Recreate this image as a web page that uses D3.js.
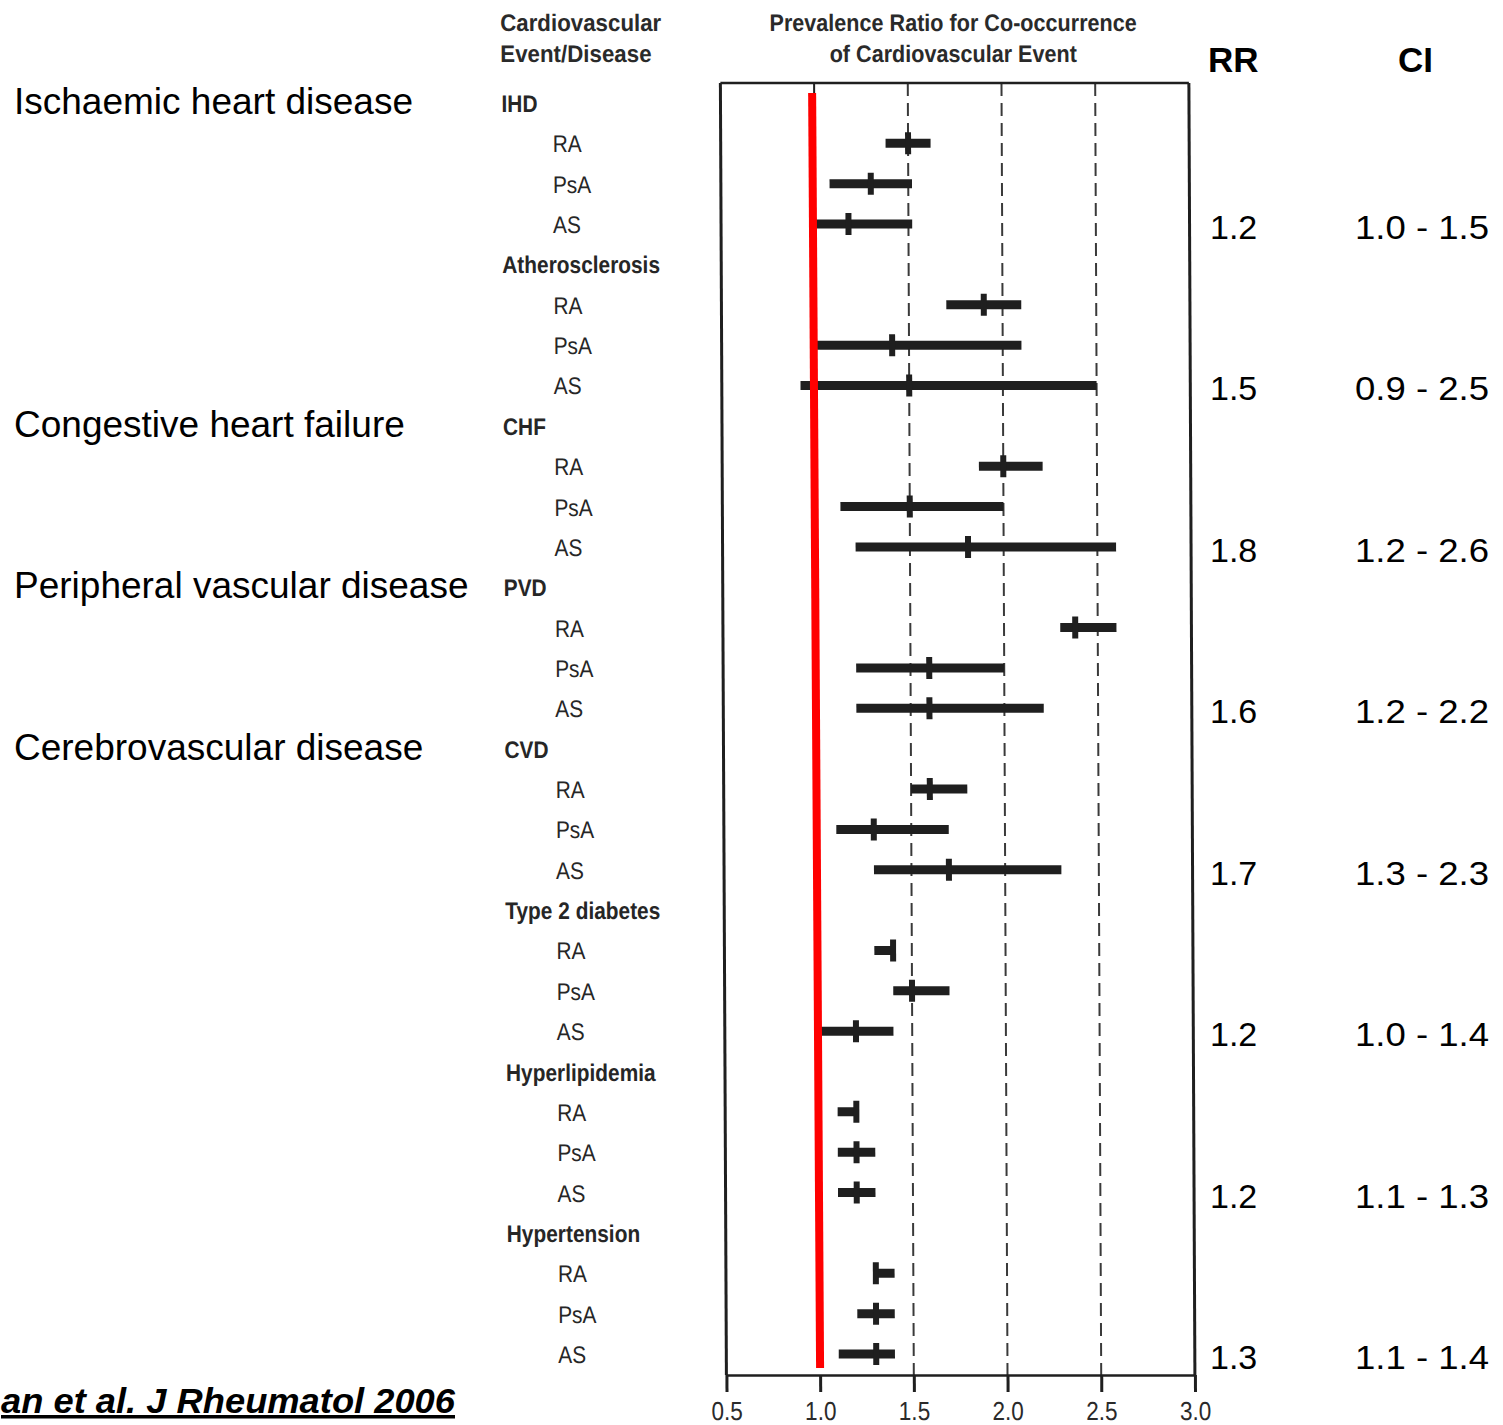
<!DOCTYPE html>
<html>
<head>
<meta charset="utf-8">
<script src="https://cdn.jsdelivr.net/npm/d3@7"></script>
<style>
  html, body { margin: 0; padding: 0; background: #ffffff; }
  svg { display: block; }
  text { font-family: "Liberation Sans", Arial, Helvetica, sans-serif; }
</style>
</head>
<body>
<script>
// ---------------- DATA ----------------
const groups = ["IHD", "Atherosclerosis", "CHF", "PVD", "CVD", "Type 2 diabetes", "Hyperlipidemia", "Hypertension"];
const subgroups = ["RA", "PsA", "AS"];
// prevalence ratio point estimates [RA, PsA, AS] per group
const pointEst = [
  [1.50, 1.30, 1.18],
  [1.90, 1.41, 1.50],
  [2.00, 1.50, 1.81],
  [2.38, 1.60, 1.60],
  [1.60, 1.30, 1.70],
  [1.40, 1.50, 1.20],
  [1.20, 1.20, 1.20],
  [1.30, 1.30, 1.30]
];
const lowerCI = [
  [1.38, 1.08, 1.00],
  [1.70, 1.00, 0.92],
  [1.87, 1.13, 1.21],
  [2.30, 1.21, 1.21],
  [1.50, 1.10, 1.30],
  [1.30, 1.40, 1.01],
  [1.10, 1.10, 1.10],
  [1.30, 1.20, 1.10]
];
const upperCI = [
  [1.62, 1.52, 1.52],
  [2.10, 2.10, 2.50],
  [2.21, 2.00, 2.60],
  [2.60, 2.00, 2.21],
  [1.80, 1.70, 2.30],
  [1.40, 1.70, 1.40],
  [1.20, 1.30, 1.30],
  [1.40, 1.40, 1.40]
];
const pooledRR = ["1.2", "1.5", "1.8", "1.6", "1.7", "1.2", "1.2", "1.3"];
const pooledCI = ["1.0 - 1.5", "0.9 - 2.5", "1.2 - 2.6", "1.2 - 2.2", "1.3 - 2.3", "1.0 - 1.4", "1.1 - 1.3", "1.1 - 1.4"];
const longNames = ["Ischaemic heart disease", "Congestive heart failure", "Peripheral vascular disease", "Cerebrovascular disease"];
const longNameGroup = [0, 2, 3, 4];
const xTicks = [0.5, 1.0, 1.5, 2.0, 2.5, 3.0];
const dashedRefs = [1.5, 2.0, 2.5];
const nullValue = 1.0;
const headerLeft = ["Cardiovascular", "Event/Disease"];
const headerMid = ["Prevalence Ratio for Co-occurrence", "of Cardiovascular Event"];
const colHeaders = ["RR", "CI"];
const sourceText = "an et al. J Rheumatol 2006";

// ---------------- LAYOUT ----------------
const W = 1503, H = 1425;
const frameTop = 83, frameBottom = 1375;
const nRows = groups.length * 4;

const x = d3.scaleLinear().domain([0.5, 3.0]).range([720, 1188.5]);
const y = d3.scaleLinear().domain([0, nRows - 1]).range([103, 1354]);

const ink = "#1f1f1f";
const narrow = 0.87;
const narrowHead = 0.93;

const svg = d3.select("body").append("svg").attr("width", W).attr("height", H);
svg.append("rect").attr("width", W).attr("height", H).attr("fill", "#fff");

// scanned figure is slightly skewed
const scan = svg.append("g").attr("transform", "skewX(0.267)");

// header texts
headerLeft.forEach((t, i) => {
  scan.append("text")
    .attr("transform", `translate(500,${31 + i * 31}) scale(${narrowHead},1)`)
    .attr("font-size", 24).attr("font-weight", "bold").attr("fill", "#2a2a2a")
    .text(t);
});
headerMid.forEach((t, i) => {
  scan.append("text")
    .attr("transform", `translate(953,${31 + i * 31}) scale(0.9,1)`)
    .attr("text-anchor", "middle")
    .attr("font-size", 24).attr("font-weight", "bold").attr("fill", "#2a2a2a")
    .text(t);
});

// row labels
const rows = [];
groups.forEach((g, gi) => {
  rows.push({ label: g, header: true, idx: gi * 4 });
  subgroups.forEach((s, si) => rows.push({ label: s, header: false, idx: gi * 4 + 1 + si, gi, si }));
});

scan.selectAll("text.rowlab").data(rows).join("text")
  .attr("class", "rowlab")
  .attr("transform", d => `translate(${d.header ? 501 : 552},${y(d.idx) + 9}) scale(${narrow},1)`)
  .attr("font-size", 24)
  .attr("font-weight", d => d.header ? "bold" : "normal")
  .attr("fill", "#262626")
  .text(d => d.label);

// dashed reference lines
scan.selectAll("line.dash").data(dashedRefs).join("line")
  .attr("class", "dash")
  .attr("x1", d => x(d)).attr("x2", d => x(d))
  .attr("y1", frameTop).attr("y2", frameBottom)
  .attr("stroke", "#3a3a3a").attr("stroke-width", 2)
  .attr("stroke-dasharray", "13,7");

// frame: top, left, right
scan.append("line").attr("x1", x(0.5)).attr("x2", x(3.0)).attr("y1", frameTop).attr("y2", frameTop)
  .attr("stroke", ink).attr("stroke-width", 2.5);
scan.append("line").attr("x1", x(0.5)).attr("x2", x(0.5)).attr("y1", frameTop).attr("y2", frameBottom)
  .attr("stroke", ink).attr("stroke-width", 3);
scan.append("line").attr("x1", x(3.0)).attr("x2", x(3.0)).attr("y1", frameTop).attr("y2", frameBottom)
  .attr("stroke", ink).attr("stroke-width", 3);
// small top tick at 1.0
scan.append("line").attr("x1", x(1.0)).attr("x2", x(1.0)).attr("y1", frameTop).attr("y2", frameTop + 10)
  .attr("stroke", ink).attr("stroke-width", 2);

// bottom axis
const axis = d3.axisBottom(x).tickValues(xTicks).tickFormat(d3.format(".1f"))
  .tickSizeInner(17).tickSizeOuter(0).tickPadding(10);
const axG = scan.append("g").attr("transform", `translate(0,${frameBottom})`).call(axis);
axG.select(".domain").attr("stroke", ink).attr("stroke-width", 2.5);
axG.selectAll(".tick line").attr("stroke", ink).attr("stroke-width", 3);
axG.selectAll(".tick text")
  .attr("font-size", 26).attr("fill", "#2a2a2a")
  .attr("font-family", "'Liberation Sans', Arial, sans-serif")
  .attr("transform", `scale(${narrow},1)`);

// CI bars and point estimates
const estRows = rows.filter(d => !d.header).map(d => ({
  idx: d.idx,
  lo: lowerCI[d.gi][d.si],
  hi: upperCI[d.gi][d.si],
  pt: pointEst[d.gi][d.si]
}));

scan.selectAll("rect.ci").data(estRows).join("rect")
  .attr("class", "ci")
  .attr("x", d => x(d.lo)).attr("width", d => x(d.hi) - x(d.lo))
  .attr("y", d => y(d.idx) - 4.5).attr("height", 9)
  .attr("fill", ink);

scan.selectAll("rect.pt").data(estRows).join("rect")
  .attr("class", "pt")
  .attr("x", d => x(d.pt) - 3).attr("width", 6)
  .attr("y", d => y(d.idx) - 11).attr("height", 22)
  .attr("fill", ink);

// red reference line at 1.0 (overlay)
scan.append("line")
  .attr("x1", x(nullValue) - 2).attr("x2", x(nullValue))
  .attr("y1", 93).attr("y2", 1368)
  .attr("stroke", "#ff0000").attr("stroke-width", 8);

// ---------------- OVERLAY TEXT ----------------
// long names on the left
longNames.forEach((t, i) => {
  svg.append("text")
    .attr("x", 14).attr("y", y(longNameGroup[i] * 4) + 11)
    .attr("font-size", 37).attr("fill", "#000")
    .text(t);
});

// column headers
svg.append("text").attr("x", 1208).attr("y", 72).attr("font-size", 35).attr("font-weight", "bold").attr("fill", "#000").text(colHeaders[0]);
svg.append("text").attr("x", 1398).attr("y", 72).attr("font-size", 35).attr("font-weight", "bold").attr("fill", "#000").text(colHeaders[1]);

// pooled RR and CI
pooledRR.forEach((t, gi) => {
  svg.append("text").attr("x", 1210).attr("y", y(gi * 4 + 3) + 15)
    .attr("font-size", 34).attr("fill", "#000").text(t);
  svg.append("text").attr("x", 1489).attr("y", y(gi * 4 + 3) + 15)
    .attr("text-anchor", "end")
    .attr("font-size", 34).attr("fill", "#000")
    .attr("textLength", 134).attr("lengthAdjust", "spacingAndGlyphs")
    .text(pooledCI[gi]);
});

// source
svg.append("text")
  .attr("x", 1).attr("y", 1413)
  .attr("font-size", 35).attr("font-weight", "bold").attr("font-style", "italic")
  .attr("text-decoration", "underline")
  .attr("textLength", 454).attr("lengthAdjust", "spacingAndGlyphs")
  .attr("fill", "#000")
  .text(sourceText);
</script>
</body>
</html>
